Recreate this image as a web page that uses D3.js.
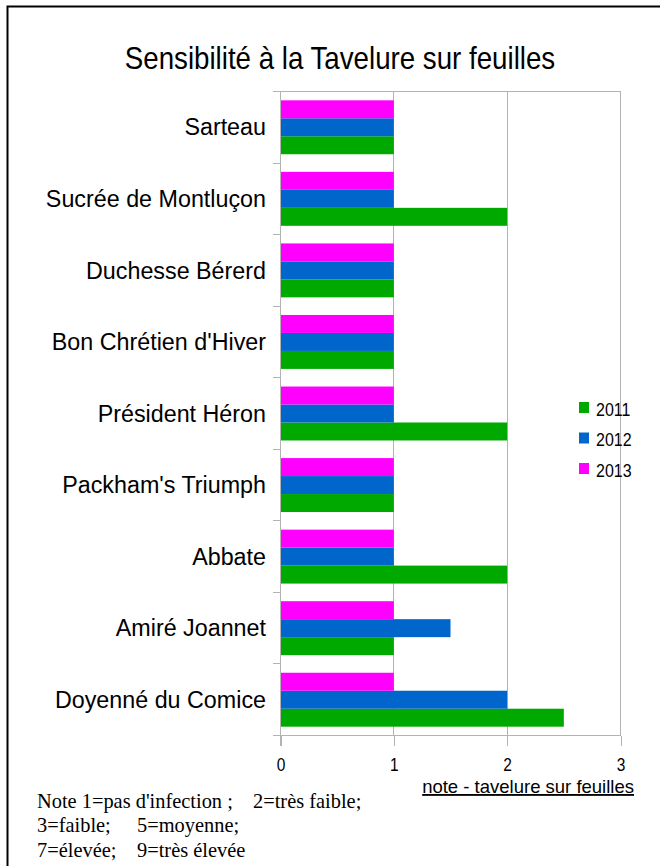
<!doctype html>
<html>

<head>
    <meta charset="utf-8">
    <style>
        body {
            margin: 0;
            background: #fff;
        }

        text {
            font-family: "Liberation Sans", Arial, sans-serif;
            fill: #000;
        }

        .grid line,
        .axis line {
            stroke: #b3b3b3;
            stroke-width: 1px;
            shape-rendering: crispEdges;
        }

        .axis path {
            display: none;
        }

        .note text {
            font-family: "Liberation Serif", "Times New Roman", serif;
            white-space: pre;
        }
    </style>
    <script src="https://d3js.org/d3.v7.min.js"></script>
</head>

<body>

    <script>
        // data, top to bottom as in the chart
        const categories = ["Sarteau", "Sucrée de Montluçon", "Duchesse Bérerd", "Bon Chrétien d'Hiver",
            "Président Héron", "Packham's Triumph", "Abbate", "Amiré Joannet", "Doyenné du Comice"]
        const years = ["2011", "2012", "2013"]
        const values2011 = [1, 2, 1, 1, 2, 1, 2, 1, 2.5]
        const values2012 = [1, 1, 1, 1, 1, 1, 1, 1.5, 2]
        const values2013 = [1, 1, 1, 1, 1, 1, 1, 1, 1]
        const xTicks = [0, 1, 2, 3]
        const colors = { "2011": "#00a900", "2012": "#0066cc", "2013": "#ff00ff" }
        const noteLines = [
            ["Note 1=pas d'infection ;", "2=très faible;"],
            ["3=faible;", "5=moyenne;"],
            ["7=élevée;", "9=très élevée"]
        ]

        const seriesValues = { "2011": values2011, "2012": values2012, "2013": values2013 }

        // the original text is a bit stretched vertically
        const stretch = (tx, ty, k) => `translate(${tx},${ty}) scale(1,${k})`

        const svg = d3.select("body").append("svg")
            .attr("width", 660)
            .attr("height", 866)

        // outer frame
        svg.append("rect")
            .attr("x", 7.5).attr("y", 6.5)
            .attr("width", 700).attr("height", 900)
            .attr("fill", "none")
            .attr("stroke", "#000")
            .attr("stroke-width", 2)

        svg.append("text")
            .attr("transform", stretch(340, 68.5, 1.16))
            .attr("text-anchor", "middle")
            .style("font-size", "27.7px")
            .text("Sensibilité à la Tavelure sur feuilles")

        const plotLeft = 280.5, plotRight = 620.5, plotTop = 91.5, plotBottom = 735.5

        const x = d3.scaleLinear().domain([0, 3]).range([plotLeft, plotRight])
        const y = d3.scaleBand().domain(categories).range([plotTop, plotBottom])
        // 2013 on top, 2011 at the bottom of each group
        const ySub = d3.scaleBand().domain(["2013", "2012", "2011"])
            .range([0, y.bandwidth()]).paddingOuter(0.49)

        // vertical grid lines
        svg.append("g").attr("class", "grid")
            .selectAll("line")
            .data(xTicks.slice(1))
            .enter()
            .append("line")
            .attr("x1", d => x(d)).attr("x2", d => x(d))
            .attr("y1", plotTop).attr("y2", plotBottom)

        // top edge of the plot
        svg.append("g").attr("class", "grid")
            .append("line")
            .attr("x1", plotLeft - 8).attr("x2", plotRight)
            .attr("y1", plotTop).attr("y2", plotTop)

        // bars
        const groups = svg.append("g")
            .selectAll("g")
            .data(categories)
            .enter()
            .append("g")
            .attr("transform", d => `translate(0,${y(d)})`)

        groups.selectAll("rect")
            .data((d, i) => years.map(yr => ({ year: yr, value: seriesValues[yr][i] })))
            .enter()
            .append("rect")
            .attr("x", x(0))
            .attr("y", d => ySub(d.year))
            .attr("width", d => x(d.value) - x(0))
            .attr("height", ySub.bandwidth())
            .attr("fill", d => colors[d.year])

        // left axis: ticks at category boundaries
        const yAxis = svg.append("g").attr("class", "axis")
        yAxis.append("line")
            .attr("x1", plotLeft).attr("x2", plotLeft)
            .attr("y1", plotTop).attr("y2", plotBottom + 10)
        yAxis.selectAll(".btick")
            .data(categories.concat([null]))
            .enter()
            .append("line")
            .attr("class", "btick")
            .attr("x1", plotLeft - 8).attr("x2", plotLeft)
            .attr("y1", (d, i) => plotTop + i * y.step())
            .attr("y2", (d, i) => plotTop + i * y.step())
        yAxis.selectAll("text")
            .data(categories)
            .enter()
            .append("text")
            .attr("transform", d => stretch(266, y(d) + y.bandwidth() / 2 + 8.2, 1.04))
            .attr("text-anchor", "end")
            .style("font-size", "23.3px")
            .text(d => d)

        // bottom axis
        const xAxis = svg.append("g").attr("class", "axis")
            .attr("transform", `translate(0,${plotBottom})`)
            .call(d3.axisBottom(x).tickValues(xTicks).tickFormat(d3.format("d")).tickSize(10))
        xAxis.append("line")
            .attr("x1", plotLeft - 8).attr("x2", plotRight)
            .attr("y1", 0).attr("y2", 0)
        xAxis.selectAll(".tick text")
            .attr("y", 0).attr("dy", 0)
            .attr("transform", stretch(0, 35.8, 1.16))
            .style("font-size", "15.5px")
            .style("font-family", "'Liberation Sans', Arial, sans-serif")
            .attr("fill", "#000")

        svg.append("text")
            .attr("transform", stretch(634, 793, 1.0))
            .attr("text-anchor", "end")
            .style("font-size", "18.5px")
            .style("text-decoration", "underline")
            .text("note - tavelure sur feuilles")

        // legend
        const legend = svg.append("g")
            .selectAll("g")
            .data(years)
            .enter()
            .append("g")
            .attr("transform", (d, i) => `translate(579,${402 + i * 30.5})`)
        legend.append("rect")
            .attr("width", 10).attr("height", 11)
            .attr("fill", d => colors[d])
        legend.append("text")
            .attr("transform", stretch(17, 13.5, 1.18))
            .style("font-size", "16px")
            .text(d => d)

        // footnote
        const note = svg.append("g").attr("class", "note")
        const noteX = [[37, 253], [37, 137], [37, 137]]
        noteLines.forEach((parts, i) => {
            parts.forEach((p, j) => {
                note.append("text")
                    .attr("x", noteX[i][j])
                    .attr("y", 807.5 + i * 24.5)
                    .style("font-size", "20.4px")
                    .text(p)
            })
        })
    </script>
</body>

</html>
